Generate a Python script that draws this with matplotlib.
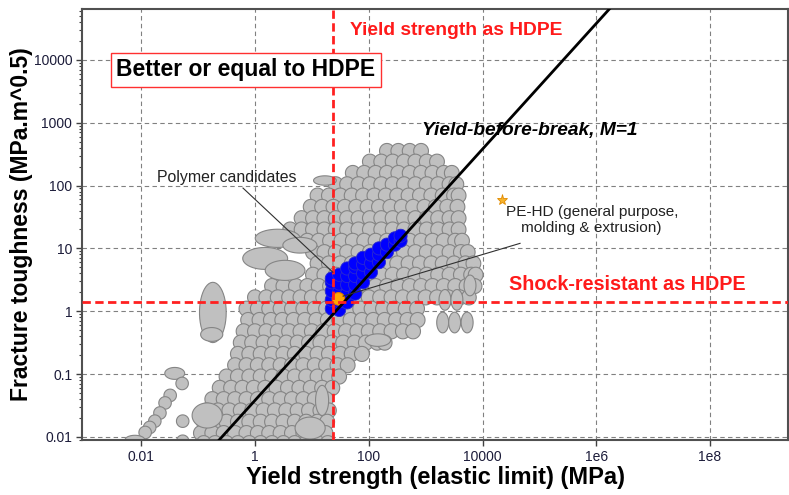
import numpy as np
import matplotlib
matplotlib.use("Agg")
import matplotlib.pyplot as plt
from matplotlib.collections import PolyCollection
from matplotlib.ticker import FixedLocator, NullLocator, LogLocator, NullFormatter

plt.rcParams['font.family'] = ['Liberation Sans', 'DejaVu Sans']

# ---------------- data ----------------
# HDPE reference values
hdpe_sigma = 28.8       # MPa
hdpe_k = 1.6            # MPa.m^0.5
limit_sigma = 23.5      # yield strength as HDPE
limit_k = 1.39          # shock resistance as HDPE
star_sigma = 21900      # label marker of PE-HD
star_k = 58.6
m_coeff = 0.038         # guideline K = m * sigma (slope 1)
guide_sigma = [1e-3, 1e10]

# axis ticks
x_ticks = [1e-2, 1, 1e2, 1e4, 1e6, 1e8]
x_tick_labels = ["0.01", "1", "100", "10000", "1e6", "1e8"]
y_ticks = [1e-2, 1e-1, 1, 10, 100, 1000, 10000]
y_tick_labels = ["0.01", "0.1", "1", "10", "100", "1000", "10000"]

# gray material bubbles: rows of (log10 K, [log10 sigma ...]) of round bubbles
cloud_rows = [
    (2.55, [2.32, 2.52, 2.72, 2.92]),
    (2.38, [2.02, 2.22, 2.42, 2.62, 2.82, 3.02, 3.20]),
    (2.20, [1.72, 1.92, 2.12, 2.32, 2.52, 2.72, 2.92, 3.12, 3.32, 3.46]),
    (2.02, [1.42, 1.62, 1.82, 2.02, 2.22, 2.42, 2.62, 2.82, 3.02, 3.22, 3.42, 3.54]),
    (1.84, [1.10, 1.30, 1.50, 1.70, 1.90, 2.10, 2.30, 2.50, 2.70, 2.90, 3.10, 3.30, 3.50, 3.58]),
    (1.66, [0.98, 1.18, 1.38, 1.58, 1.78, 1.98, 2.18, 2.38, 2.58, 2.78, 2.98, 3.18, 3.38, 3.56]),
    (1.48, [0.82, 1.02, 1.22, 1.42, 1.62, 1.82, 2.02, 2.22, 2.42, 2.62, 2.82, 3.02, 3.22, 3.42, 3.58]),
    (1.30, [0.62, 0.82, 1.02, 1.22, 1.42, 1.62, 1.82, 2.02, 2.22, 2.42, 2.62, 2.82, 3.02, 3.22, 3.42, 3.58]),
    (1.12, [0.92, 1.12, 1.32, 1.52, 1.72, 1.92, 2.12, 2.32, 2.52, 2.72, 2.92, 3.12, 3.32, 3.52, 3.64]),
    (0.94, [1.02, 1.22, 1.42, 1.62, 1.82, 2.02, 2.22, 2.42, 2.62, 2.82, 3.02, 3.22, 3.42, 3.62, 3.74]),
    (0.76, [1.10, 1.30, 1.50, 1.70, 1.90, 2.10, 2.30, 2.50, 2.70, 2.90, 3.10, 3.30, 3.50, 3.70, 3.84]),
    (0.58, [1.02, 1.22, 1.42, 1.62, 1.82, 2.02, 2.22, 2.42, 2.62, 2.82, 3.02, 3.22, 3.42, 3.62, 3.80, 3.88]),
    (0.40, [0.30, 0.50, 0.72, 0.92, 1.12, 1.32, 1.52, 1.72, 1.92, 2.12, 2.32, 2.52, 2.72, 2.92, 3.12, 3.32, 3.52, 3.72, 3.86]),
    (0.22, [0.00, 0.20, 0.40, 0.60, 0.80, 1.00, 1.20, 1.40, 1.60, 1.80, 2.00, 2.20, 2.40, 2.60, 2.80, 3.00, 3.20, 3.40, 3.60, 3.76]),
    (0.04, [-0.15, 0.05, 0.25, 0.45, 0.65, 0.85, 1.05, 1.25, 1.45, 1.65, 1.85, 2.05, 2.25, 2.45, 2.65, 2.85]),
    (-0.14, [-0.12, 0.08, 0.28, 0.48, 0.68, 0.88, 1.08, 1.28, 1.48, 1.68, 1.88, 2.08, 2.28, 2.48, 2.68, 2.86]),
    (-0.32, [-0.20, 0.00, 0.20, 0.40, 0.60, 0.80, 1.00, 1.20, 1.40, 1.60, 1.80, 2.00, 2.20, 2.40, 2.60, 2.78]),
    (-0.50, [-0.25, -0.05, 0.15, 0.35, 0.55, 0.75, 0.95, 1.15, 1.35, 1.55, 1.75, 1.95, 2.15, 2.28]),
    (-0.68, [-0.30, -0.10, 0.10, 0.30, 0.50, 0.70, 0.90, 1.10, 1.30, 1.50, 1.70, 1.88]),
    (-0.86, [-0.35, -0.15, 0.05, 0.25, 0.45, 0.65, 0.85, 1.05, 1.25, 1.45, 1.63]),
    (-1.04, [-0.50, -0.30, -0.10, 0.10, 0.30, 0.50, 0.70, 0.90, 1.10, 1.30, 1.48]),
    (-1.22, [-0.62, -0.42, -0.22, -0.02, 0.18, 0.38, 0.58, 0.78, 0.98, 1.18, 1.36]),
    (-1.40, [-0.75, -0.55, -0.35, -0.15, 0.05, 0.25, 0.45, 0.65, 0.85, 1.05, 1.25]),
    (-1.58, [-0.85, -0.65, -0.45, -0.25, -0.05, 0.15, 0.35, 0.55, 0.75, 0.95, 1.15, 1.30]),
    (-1.76, [-0.90, -0.70, -0.50, -0.30, -0.10, 0.10, 0.30, 0.50, 0.70, 0.90, 1.10, 1.27]),
    (-1.94, [-0.95, -0.75, -0.55, -0.35, -0.15, 0.05, 0.25, 0.45, 0.65, 0.85, 1.05, 1.24]),
    (-2.10, [-0.90, -0.70, -0.50, -0.30, -0.10, 0.10, 0.30, 0.50, 0.70, 0.90, 1.10, 1.28]),
]
bubble_span = (0.26, 0.24)   # decades (sigma, K) of a round bubble

# gray bubbles with their own spans: (log sigma, log K, span sigma, span K)
odd_lsig = [0.40, 0.18, 0.53, 0.79, 1.23, 3.30, 3.51, 3.73, 3.34, 3.55, 3.78, 2.16,
            -0.74, -0.76, -1.41, -1.28, -1.49, -1.58, -1.67, -1.76, -1.85, -1.93,
            -1.27, -2.11, -1.27, -0.84, 0.97, 1.18]
odd_lk = [1.16, 0.84, 0.65, 1.05, 2.08, -0.18, -0.18, -0.18, 0.18, 0.18, 0.41, -0.46,
          -0.02, -0.37, -0.99, -1.15, -1.34, -1.46, -1.62, -1.75, -1.85, -1.93,
          -1.75, -2.05, -2.07, -1.66, -1.86, -1.42]
odd_wsig = [0.79, 0.79, 0.70, 0.60, 0.40, 0.21, 0.21, 0.21, 0.21, 0.21, 0.21, 0.45,
            0.47, 0.39, 0.35, 0.22, 0.22, 0.22, 0.22, 0.22, 0.22, 0.22,
            0.22, 0.35, 0.22, 0.53, 0.53, 0.23]
odd_wk = [0.29, 0.35, 0.32, 0.25, 0.15, 0.33, 0.33, 0.33, 0.33, 0.33, 0.33, 0.20,
          0.96, 0.22, 0.19, 0.20, 0.20, 0.20, 0.20, 0.20, 0.20, 0.20,
          0.20, 0.15, 0.20, 0.40, 0.35, 0.48]

# blue polymer candidates: columns of (log10 sigma, [log10 K ...])
cand_cols = [
    (1.35, [0.04, 0.18, 0.32, 0.46, 0.52]),
    (1.48, [0.02, 0.16, 0.30, 0.44, 0.58]),
    (1.62, [0.14, 0.28, 0.42, 0.56, 0.68]),
    (1.76, [0.28, 0.42, 0.56, 0.70, 0.76]),
    (1.90, [0.46, 0.60, 0.74, 0.85]),
    (2.04, [0.62, 0.76, 0.90]),
    (2.18, [0.78, 0.90, 1.00]),
    (2.32, [0.94, 1.06]),
    (2.46, [1.06, 1.16]),
    (2.56, [1.12, 1.20]),
]
cand_span = (0.23, 0.21)
hdpe_span = (0.22, 0.20)

# ---------------- figure ----------------
fig = plt.figure(figsize=(7.89, 4.95), dpi=100)
ax = fig.add_axes([82/789, 55/495, 706/789, 431/495])
ax.set_xscale('log')
ax.set_yscale('log')
ax.set_xlim(10**-3.04, 10**9.37)
ax.set_ylim(10**-2.05, 10**4.81)

t = np.linspace(0, 2*np.pi, 48)


def ellipse(lx, ly, w, h):
    return np.column_stack([10**(lx + w/2*np.cos(t)), 10**(ly + h/2*np.sin(t))])


gray_verts = []
for lk, sigs in cloud_rows:
    for ls in sigs:
        gray_verts.append(ellipse(ls, lk, bubble_span[0], bubble_span[1]))
for ls, lk, w, h in zip(odd_lsig, odd_lk, odd_wsig, odd_wk):
    gray_verts.append(ellipse(ls, lk, w, h))
ax.add_collection(PolyCollection(gray_verts, facecolors='#c0c0c0', edgecolors='#858585',
                                 linewidths=0.8, zorder=2), autolim=False)

blue_verts = []
for ls, lks in cand_cols:
    for lk in lks:
        blue_verts.append(ellipse(ls, lk, cand_span[0], cand_span[1]))
ax.add_collection(PolyCollection(blue_verts, facecolors='#0000ff', edgecolors='#2a2ad0',
                                 linewidths=0.6, zorder=3), autolim=False)

ax.add_collection(PolyCollection([ellipse(np.log10(hdpe_sigma), np.log10(hdpe_k),
                                          hdpe_span[0], hdpe_span[1])],
                                 facecolors='#ffa500', edgecolors='#e07b00',
                                 linewidths=0.8, zorder=4), autolim=False)

# guideline and limits
gs = np.array(guide_sigma)
ax.plot(gs, m_coeff*gs, color='black', lw=2, zorder=5)
ax.axvline(limit_sigma, color='#ff2020', lw=2, ls=(0, (3, 1.6)), zorder=5)
ax.axhline(limit_k, color='#ff2020', lw=2, ls=(0, (3, 1.6)), zorder=5)

# leaders
ax.plot([10**-0.21, 10**1.37], [10**1.96, 10**0.62], color='#303030', lw=0.8, zorder=6)
ax.plot([10**4.66, 10**1.55], [10**1.08, 10**0.24], color='#303030', lw=0.8, zorder=6)
ax.plot([star_sigma], [star_k], marker='*', ms=8, color='#f7b32b', mec='#e08a00',
        mew=0.6, zorder=6)

# texts
ax.text(10**1.67, 10**4.47, "Yield strength as HDPE", color='#ff1a1a', fontsize=13.9,
        fontweight='bold', ha='left', va='center', zorder=7)
ax.text(10**-0.16, 10**3.84, "Better or equal to HDPE", color='black', fontsize=16.5,
        fontweight='bold', ha='center', va='center', zorder=7,
        bbox=dict(boxstyle='square,pad=0.25', fc='white', ec='#ff3030', lw=1))
ax.text(10**4.83, 10**2.88, "Yield-before-break, M=1", color='black', fontsize=13.8,
        fontweight='bold', fontstyle='italic', ha='center', va='center', zorder=7)
ax.text(10**-0.49, 10**2.13, "Polymer candidates", color='#222222', fontsize=11.4,
        ha='center', va='center', zorder=7)
ax.text(10**5.92, 10**1.45, "PE-HD (general purpose,\nmolding & extrusion)", color='#222222',
        fontsize=11.1, ha='center', va='center', multialignment='center',
        linespacing=1.2, zorder=7)
ax.text(10**6.54, 10**0.43, "Shock-resistant as HDPE", color='#ff1a1a', fontsize=14.2,
        fontweight='bold', ha='center', va='center', zorder=7)

# axes styling
ax.xaxis.set_major_locator(FixedLocator(x_ticks))
ax.xaxis.set_minor_locator(NullLocator())
ax.set_xticklabels(x_tick_labels)
ax.yaxis.set_major_locator(FixedLocator(y_ticks))
ax.yaxis.set_minor_locator(LogLocator(base=10, subs=np.arange(2, 10), numticks=30))
ax.yaxis.set_minor_formatter(NullFormatter())
ax.set_yticklabels(y_tick_labels)
for lab in ax.get_xticklabels() + ax.get_yticklabels():
    lab.set_fontsize(10)
    lab.set_color('#1c1c3a')
ax.tick_params(which='major', direction='out', length=4, width=1, color='#404040', pad=3)
ax.tick_params(which='minor', direction='out', length=2, width=0.8, color='#404040')
ax.grid(True, which='major', ls=(0, (4, 3)), color='#808080', lw=0.8, zorder=0)
ax.set_axisbelow(True)
for sp in ax.spines.values():
    sp.set_color('#505050')
    sp.set_linewidth(1.5)

ax.set_xlabel("Yield strength (elastic limit) (MPa)", fontsize=17, fontweight='bold')
ax.set_ylabel("Fracture toughness (MPa.m^0.5)", fontsize=16.5, fontweight='bold')
ax.xaxis.set_label_coords(0.5, -0.088)
ax.xaxis.label.set_va('center')
ax.yaxis.set_label_coords(-0.085, 0.5)
ax.yaxis.label.set_va('center')

fig.savefig("out.png", dpi=100)
